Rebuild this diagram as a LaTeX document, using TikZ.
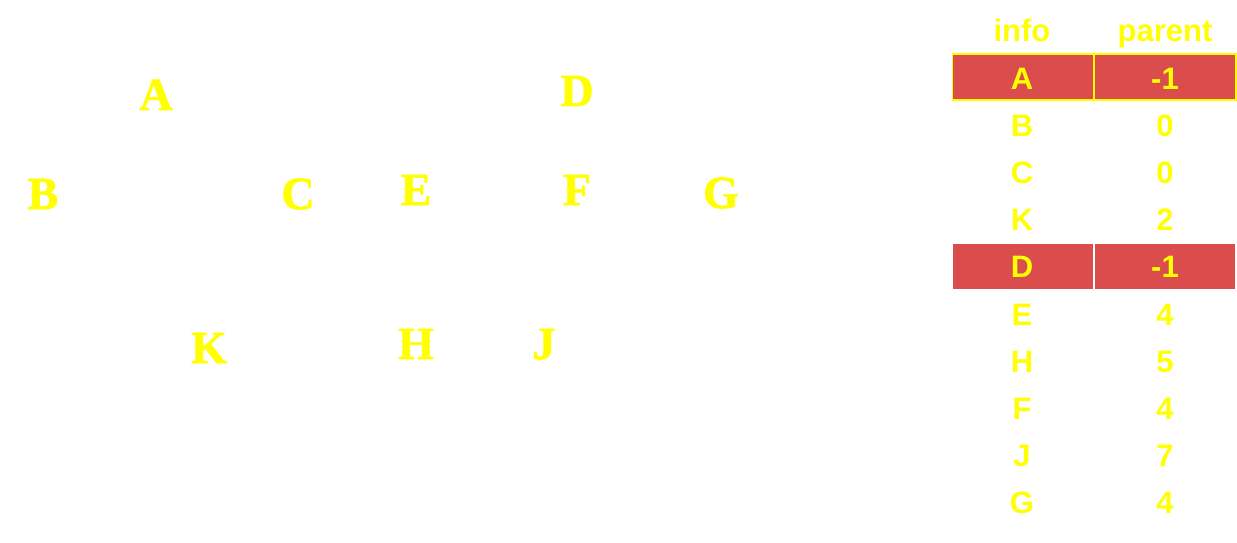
\documentclass[tikz,border=0pt]{standalone}
\usepackage{fontspec}
\newfontfamily\treefont{Liberation Serif}[UprightFont={* Bold},FakeBold=1.5]
\newfontfamily\tabfont{Liberation Sans}[UprightFont={* Bold}]
\definecolor{lettery}{RGB}{255,255,0}
\definecolor{rowred}{RGB}{219,77,77}
\begin{document}
\begin{tikzpicture}[x=1pt,y=-1pt,
  treeletter/.style={inner sep=0pt,anchor=base,text=lettery,font=\treefont\fontsize{46}{50}\selectfont},
  tabtext/.style={inner sep=0pt,anchor=base,text=lettery,font=\tabfont\fontsize{31}{34}\selectfont},
  redcell/.style={fill=rowred,draw=#1,line width=1.5pt},
]
\useasboundingbox[fill=white] (0,0) rectangle (1237,543);
% tree letters
\node[treeletter] (A) at (156,110) {A};
\node[treeletter] (B) at (43,209) {B};
\node[treeletter] (C) at (298,209) {C};
\node[treeletter] (D) at (577,106) {D};
\node[treeletter] (E) at (416,205) {E};
\node[treeletter] (F) at (577,205) {F};
\node[treeletter] (G) at (721,208) {G};
\node[treeletter] (K) at (209,363) {K};
\node[treeletter] (H) at (416,359) {H};
\node[treeletter] (J) at (544,359) {J};
% table highlighted rows
\draw[redcell=lettery] (952.5,54) rectangle (1094,100);
\draw[redcell=lettery] (1094,54) rectangle (1236,100);
\draw[redcell=white] (952.5,243.5) rectangle (1094,289.5);
\draw[redcell=white] (1094,243.5) rectangle (1236,289.5);
% header
\node[tabtext] (hinfo) at (1022,42) {info};
\node[tabtext] (hparent) at (1165,42) {parent};
% rows
\foreach \i/\n/\p in {0/A/-1,1/B/0,2/C/0,3/K/2,4/D/-1,5/E/4,6/H/5,7/F/4,8/J/7,9/G/4}{
  \node[tabtext] (info\i) at (1022,{89+47.2*\i}) {\n};
  \node[tabtext] (par\i) at (1165,{89+47.2*\i}) {\p};
}
\end{tikzpicture}
\end{document}
